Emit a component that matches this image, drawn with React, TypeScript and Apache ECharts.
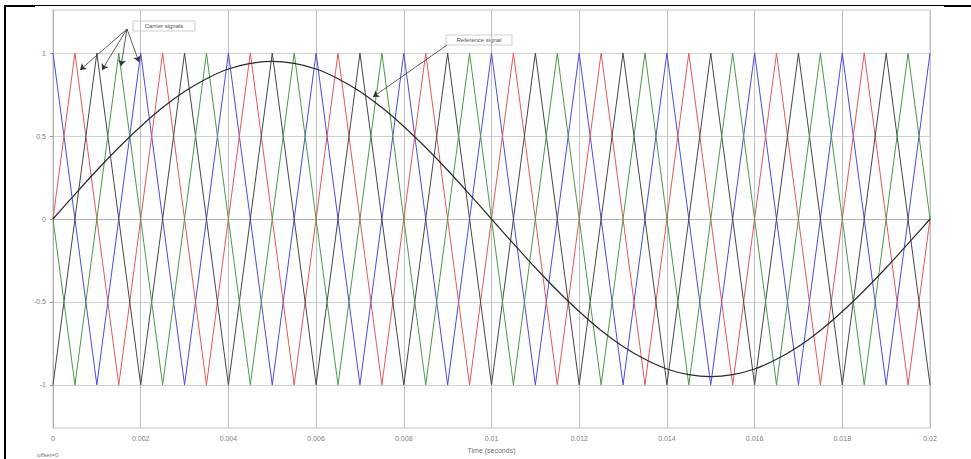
import React, { useEffect, useRef } from "react";
import * as echarts from "echarts";

// Sample instants (s), 0 .. 0.02 every 0.5 ms
const times = [
  0, 0.0005, 0.001, 0.0015, 0.002, 0.0025, 0.003, 0.0035, 0.004, 0.0045,
  0.005, 0.0055, 0.006, 0.0065, 0.007, 0.0075, 0.008, 0.0085, 0.009, 0.0095,
  0.01, 0.0105, 0.011, 0.0115, 0.012, 0.0125, 0.013, 0.0135, 0.014, 0.0145,
  0.015, 0.0155, 0.016, 0.0165, 0.017, 0.0175, 0.018, 0.0185, 0.019, 0.0195,
  0.02,
];

// Phase-shifted triangular carriers (vertex values at the sample instants)
const carrierBlue = [
  1, 0, -1, 0, 1, 0, -1, 0, 1, 0, -1, 0, 1, 0, -1, 0, 1, 0, -1, 0,
  1, 0, -1, 0, 1, 0, -1, 0, 1, 0, -1, 0, 1, 0, -1, 0, 1, 0, -1, 0, 1,
];
const carrierRed = [
  0, 1, 0, -1, 0, 1, 0, -1, 0, 1, 0, -1, 0, 1, 0, -1, 0, 1, 0, -1,
  0, 1, 0, -1, 0, 1, 0, -1, 0, 1, 0, -1, 0, 1, 0, -1, 0, 1, 0, -1, 0,
];
const carrierBlack = [
  -1, 0, 1, 0, -1, 0, 1, 0, -1, 0, 1, 0, -1, 0, 1, 0, -1, 0, 1, 0,
  -1, 0, 1, 0, -1, 0, 1, 0, -1, 0, 1, 0, -1, 0, 1, 0, -1, 0, 1, 0, -1,
];
const carrierGreen = [
  0, -1, 0, 1, 0, -1, 0, 1, 0, -1, 0, 1, 0, -1, 0, 1, 0, -1, 0, 1,
  0, -1, 0, 1, 0, -1, 0, 1, 0, -1, 0, 1, 0, -1, 0, 1, 0, -1, 0, 1, 0,
];

// Sinusoidal reference (modulating) signal
const referenceSignal = [
  0, 0.149, 0.294, 0.431, 0.558, 0.672, 0.769, 0.846, 0.904, 0.938,
  0.95, 0.938, 0.904, 0.846, 0.769, 0.672, 0.558, 0.431, 0.294, 0.149,
  0, -0.149, -0.294, -0.431, -0.558, -0.672, -0.769, -0.846, -0.904, -0.938,
  -0.95, -0.938, -0.904, -0.846, -0.769, -0.672, -0.558, -0.431, -0.294, -0.149,
  0,
];

const yTicks = [-1, -0.5, 0, 0.5, 1];

const FONT = "Liberation Sans, Arial, sans-serif";

const pairs = (vals: number[]) => times.map((t, i) => [t, vals[i]]);

const arrow = (x1: number, y1: number, x2: number, y2: number) => [
  { x: x1, y: y1 },
  { x: x2, y: y2 },
];

export default function App() {
  const ref = useRef<HTMLDivElement>(null);

  useEffect(() => {
    document.body.style.margin = "0";
    if (!ref.current) return;
    const chart = echarts.init(ref.current, null, { renderer: "svg" });

    const carrier = (name: string, vals: number[], color: string) => ({
      name,
      type: "line",
      data: pairs(vals),
      showSymbol: false,
      lineStyle: { color, width: 1 },
      silent: true,
    });

    chart.setOption({
      animation: false,
      backgroundColor: "#ffffff",
      grid: {
        left: 53,
        top: 10,
        right: 41,
        bottom: 29,
        show: true,
        borderColor: "#c4c4c4",
        borderWidth: 1,
      },
      xAxis: {
        type: "value",
        min: 0,
        max: 0.02,
        interval: 0.002,
        name: "Time (seconds)",
        nameLocation: "middle",
        nameGap: 19,
        nameTextStyle: { fontSize: 7, color: "#707070", fontFamily: FONT },
        axisLine: { show: true, lineStyle: { color: "#b0b0b0" } },
        axisTick: { show: true, inside: true, length: 3, lineStyle: { color: "#999" } },
        axisLabel: { fontSize: 7, color: "#808080", fontFamily: FONT, margin: 7 },
        splitLine: { show: true, lineStyle: { color: "#c0c0c0", width: 1 } },
      },
      yAxis: {
        type: "value",
        min: -1.26,
        max: 1.26,
        axisLine: { show: true, lineStyle: { color: "#b0b0b0" } },
        axisTick: {
          show: true,
          inside: false,
          length: 3,
          customValues: yTicks,
          lineStyle: { color: "#999" },
        },
        axisLabel: {
          fontSize: 7,
          color: "#808080",
          fontFamily: FONT,
          margin: 7,
          customValues: yTicks,
        },
        splitLine: { show: true, lineStyle: { color: "#d0d0d0", width: 1 } },
      },
      series: [
        carrier("Carrier 1", carrierBlue, "#4a4aee"),
        carrier("Carrier 2", carrierRed, "#e85656"),
        carrier("Carrier 3", carrierBlack, "#464646"),
        carrier("Carrier 4", carrierGreen, "#4a9a4a"),
        {
          name: "Reference signal",
          type: "line",
          data: pairs(referenceSignal),
          showSymbol: false,
          smooth: 0.3,
          lineStyle: { color: "#2a2a2a", width: 1.2 },
          silent: true,
          markLine: {
            silent: true,
            symbol: ["none", "arrow"],
            symbolSize: 6,
            label: { show: false },
            lineStyle: { color: "#333", width: 0.8, type: "solid" },
            data: [
              arrow(127, 29, 80, 70),
              arrow(127, 29, 102, 70),
              arrow(127, 29, 121, 66),
              arrow(127, 29, 139, 62),
              arrow(447, 45, 373, 97),
            ],
          },
        },
      ],
      graphic: [
        // page frame
        { type: "rect", shape: { x: 4, y: 5, width: 2, height: 454 }, style: { fill: "#000" } },
        { type: "rect", shape: { x: 4, y: 5, width: 31, height: 2 }, style: { fill: "#000" } },
        { type: "rect", shape: { x: 35, y: 5, width: 910, height: 1 }, style: { fill: "#000" } },
        { type: "rect", shape: { x: 944, y: 5, width: 27, height: 2 }, style: { fill: "#000" } },
        // callouts
        {
          type: "group",
          children: [
            {
              type: "rect",
              shape: { x: 133, y: 21, width: 62, height: 10 },
              style: { fill: "#fff", stroke: "#cfcfcf", lineWidth: 1 },
            },
            {
              type: "text",
              x: 164,
              y: 26,
              style: {
                text: "Carrier signals",
                fill: "#555",
                font: `6px ${FONT}`,
                align: "center",
                verticalAlign: "middle",
              },
            },
            {
              type: "rect",
              shape: { x: 446, y: 35, width: 66, height: 10 },
              style: { fill: "#fff", stroke: "#cfcfcf", lineWidth: 1 },
            },
            {
              type: "text",
              x: 479,
              y: 40,
              style: {
                text: "Reference signal",
                fill: "#555",
                font: `6px ${FONT}`,
                align: "center",
                verticalAlign: "middle",
              },
            },
          ],
        },
        {
          type: "text",
          x: 37,
          y: 455,
          style: {
            text: "offset=0",
            fill: "#777",
            font: `6px ${FONT}`,
            verticalAlign: "middle",
          },
        },
      ],
    });

    return () => chart.dispose();
  }, []);

  return <div ref={ref} style={{ width: 971, height: 459 }} />;
}
